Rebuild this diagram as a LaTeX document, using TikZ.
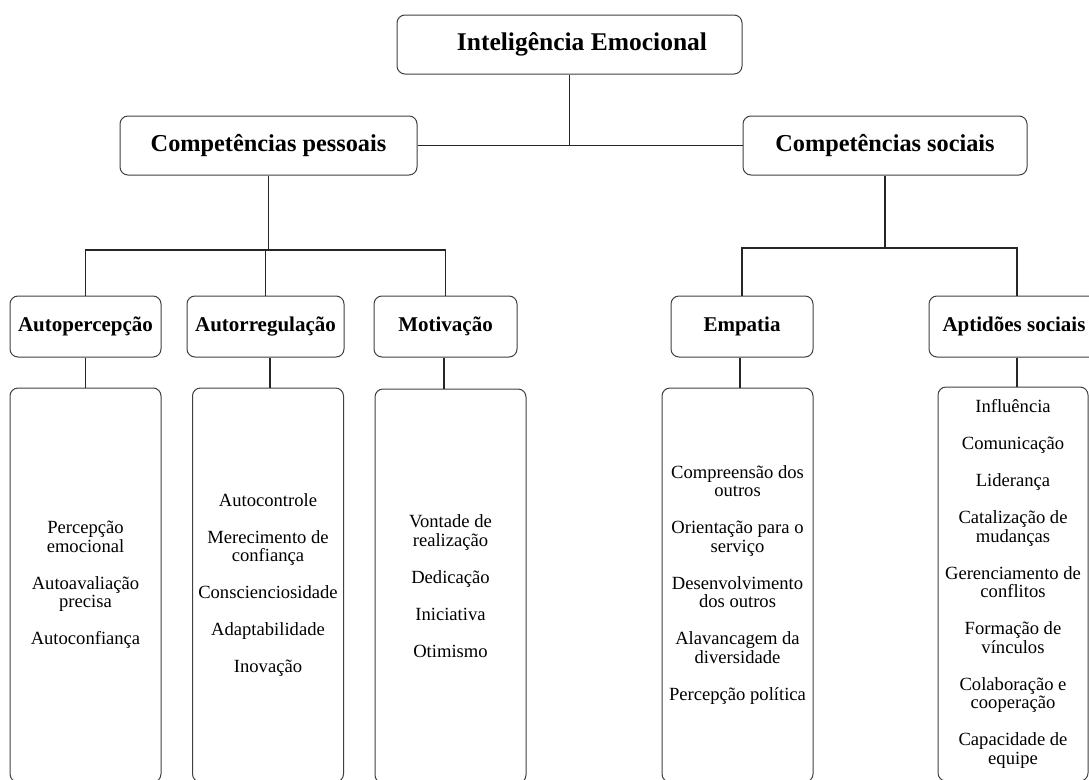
\documentclass[tikz,border=0pt]{standalone}
\usepackage{fontspec}
\setmainfont{Liberation Serif}
\begin{document}
\begin{tikzpicture}[x=1pt,y=-1pt,
  box/.style={draw=black!75, line width=1pt, rounded corners=8pt, fill=white, inner sep=0pt, align=center},
  top/.style={box, font=\fontsize{25.5}{28}\selectfont\bfseries, minimum height=59pt},
  mid/.style={box, font=\fontsize{24.3}{27}\selectfont\bfseries, minimum height=59pt},
  hd/.style={box, font=\fontsize{21}{24}\selectfont\bfseries, minimum height=61pt},
  lst/.style={box, font=\fontsize{18.6}{18.5}\selectfont, minimum height=394pt, minimum width=151pt},
  conn/.style={draw=black!85, line width=1.8pt}]
\useasboundingbox (0,0) rectangle (1089,779);
\clip (0,0) rectangle (1089,779);

% top
\node[top, minimum width=345pt] (ie) at (569.5,44.5) {\hspace*{25pt}Inteligência Emocional};
\node[mid, minimum width=297pt] (cp) at (268.5,145.5) {Competências pessoais};
\node[mid, minimum width=284pt] (cs) at (885,145.5) {Competências sociais};

% level 2 headers
\node[hd, minimum width=151pt] (ap) at (85.5,326.5) {Autopercepção};
\node[hd, minimum width=157pt] (ar) at (265.5,326.5) {Autorregulação};
\node[hd, minimum width=143pt] (mo) at (445.5,326.5) {Motivação};
\node[hd, minimum width=142pt] (em) at (742,326.5) {Empatia};
\node[hd, minimum width=170pt] (as) at (1014,326.5) {Aptidões sociais};

% lists
\node[lst] (apl) at (85.5,585) {Percepção\\emocional\\[18.5pt]Autoavaliação\\precisa\\[18.5pt]Autoconfiança};
\node[lst] (arl) at (268,585) {Autocontrole\\[18.5pt]Merecimento de\\confiança\\[18.5pt]Conscienciosidade\\[18.5pt]Adaptabilidade\\[18.5pt]Inovação};
\node[lst] (mol) at (450.5,586) {Vontade de\\realização\\[18.5pt]Dedicação\\[18.5pt]Iniciativa\\[18.5pt]Otimismo};
\node[lst] (eml) at (737.5,585) {Compreensão dos\\outros\\[18.5pt]Orientação para o\\serviço\\[18.5pt]Desenvolvimento\\dos outros\\[18.5pt]Alavancagem da\\diversidade\\[18.5pt]Percepção política};
\node[lst, minimum width=150pt] (asl) at (1013,584) {Influência\\[18.5pt]Comunicação\\[18.5pt]Liderança\\[18.5pt]Catalização de\\mudanças\\[18.5pt]Gerenciamento de\\conflitos\\[18.5pt]Formação de\\vínculos\\[18.5pt]Colaboração e\\cooperação\\[18.5pt]Capacidade de\\equipe};

% connectors top
\draw[conn] (cp.east) -- (cs.west);
\draw[conn] (ie.south) -- (ie.south |- cp.east);

% left branch
\coordinate (j1) at (268.5,250);
\draw[conn] (cp.south) -- (j1);
\draw[conn] (ap.north) |- (j1);
\draw[conn] (mo.north) |- (j1);
\draw[conn] (ar.north) -- (ar.north |- j1);

% right branch
\coordinate (j2) at (885,248);
\draw[conn] (cs.south) -- (j2);
\draw[conn] (em.north) |- (j2);
\draw[conn] ([xshift=3pt]as.north) |- (j2);

% header to list
\draw[conn] (ap.south) -- (ap.south |- apl.north);
\draw[conn] ([xshift=4.5pt]ar.south) -- ([xshift=4.5pt]ar.south |- arl.north);
\draw[conn] ([xshift=-1.5pt]mo.south) -- ([xshift=-1.5pt]mo.south |- mol.north);
\draw[conn] ([xshift=-2pt]em.south) -- ([xshift=-2pt]em.south |- eml.north);
\draw[conn] ([xshift=3pt]as.south) -- ([xshift=3pt]as.south |- asl.north);
\end{tikzpicture}
\end{document}
